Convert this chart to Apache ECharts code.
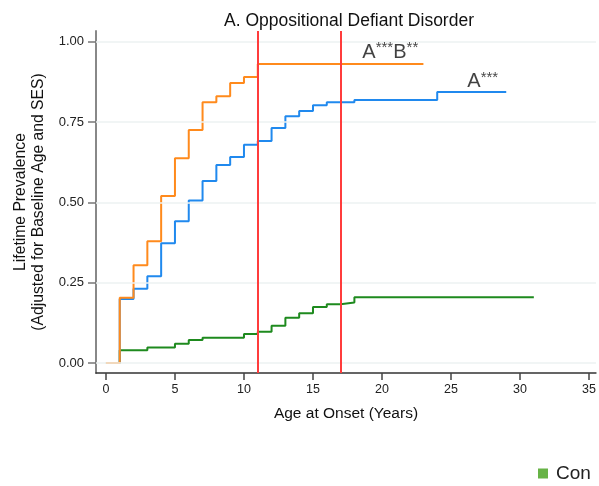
<!DOCTYPE html>
<html>
<head>
<meta charset="utf-8">
<script src="https://cdn.jsdelivr.net/npm/echarts@6/dist/echarts.min.js"></script>
<style>html,body{margin:0;padding:0;background:#fff}#c{width:599px;height:486px}</style>
</head>
<body>
<div id="c"></div>
<script>
// Values by integer age (age = index), held until the next age
const oddGroupA = [0, 0.203, 0.304, 0.379, 0.520, 0.637, 0.725, 0.811, 0.830, 0.871, 0.890,
  0.930, 0.930, 0.930, 0.930, 0.930, 0.930, 0.930, 0.930, 0.930, 0.930, 0.930, 0.930, 0.930];
const oddGroupB = [0, 0.199, 0.231, 0.270, 0.373, 0.441, 0.506, 0.566, 0.616, 0.641, 0.679,
  0.691, 0.731, 0.768, 0.784, 0.802, 0.811, 0.811, 0.818, 0.818, 0.818, 0.818, 0.818, 0.818,
  0.843, 0.843, 0.843, 0.843, 0.843, 0.843];
const controlVals = [0, 0.040, 0.040, 0.048, 0.048, 0.060, 0.072, 0.079, 0.079, 0.079, 0.090,
  0.097, 0.116, 0.141, 0.155, 0.174, 0.183, 0.188, 0.205, 0.205, 0.205, 0.205, 0.205, 0.205,
  0.205, 0.205, 0.205, 0.205, 0.205, 0.205, 0.205, 0.205];
const cutoffAges = [11, 17];
const xTicks = [0, 5, 10, 15, 20, 25, 30, 35];
const yTicks = [0, 0.25, 0.5, 0.75, 1];
const annotations = [
  {age: 20.6, value: 0.967, main1: 'A', sup1: '***', main2: 'B', sup2: '**'},
  {age: 27.3, value: 0.875, main1: 'A', sup1: '***', main2: '', sup2: ''}
];

const toPairs = arr => arr.map((v, i) => [i, v]);
const FONT = '"Liberation Sans", Arial, Helvetica, sans-serif';

const chart = echarts.init(document.getElementById('c'), null, {renderer: 'canvas'});
chart.setOption({
  animation: false,
  textStyle: {fontFamily: FONT},
  title: {
    text: 'A. Oppositional Defiant Disorder',
    left: 344, top: 7, textAlign: 'center',
    textStyle: {fontFamily: FONT, fontSize: 17.5, fontWeight: 'normal', color: '#111'}
  },
  legend: {
    left: 533, top: 459,
    itemWidth: 10, itemHeight: 10,
    textStyle: {fontFamily: FONT, fontSize: 19, color: '#222', width: 40, overflow: 'truncate', ellipsis: '', padding: [0, 0, 0, 3]},
    data: [{name: 'Control', icon: 'rect', itemStyle: {color: '#67b346'}}]
  },
  grid: {left: 96, right: 0, top: 31, bottom: 113, containLabel: false},
  xAxis: {
    type: 'value', min: -0.72, max: 35.5,
    name: 'Age at Onset (Years)', nameLocation: 'middle', nameGap: 33,
    nameTextStyle: {fontFamily: FONT, fontSize: 15.5, color: '#111'},
    axisLine: {onZero: false, lineStyle: {color: '#333', width: 1.5}},
    axisTick: {show: true, customValues: xTicks, length: 7, lineStyle: {color: '#444', width: 1.5}},
    axisLabel: {customValues: xTicks, margin: 10, fontSize: 12.5, color: '#222', fontFamily: FONT},
    splitLine: {show: false}
  },
  yAxis: {
    type: 'value', min: -0.031, max: 1.033,
    name: 'Lifetime Prevalence\n(Adjusted for Baseline Age and SES)',
    nameLocation: 'middle', nameGap: 48, nameRotate: 90,
    nameTextStyle: {fontFamily: FONT, fontSize: 15.7, color: '#111', lineHeight: 18},
    axisLine: {show: true, onZero: false, lineStyle: {color: '#888', width: 2}},
    axisTick: {show: true, customValues: yTicks, length: 8, lineStyle: {color: '#777', width: 1.5}},
    axisLabel: {customValues: yTicks, margin: 12, fontSize: 13, color: '#222', fontFamily: FONT,
      formatter: v => v.toFixed(2)},
    splitLine: {show: false}
  },
  series: [
    {
      type: 'line', name: 'grid', silent: true, data: [], z: 1,
      markLine: {
        silent: true, symbol: ['none', 'none'], label: {show: false},
        lineStyle: {color: '#edf2f2', width: 1.5, type: 'solid'},
        data: yTicks.map(v => ({yAxis: v}))
      }
    },
    {
      type: 'line', name: 'Control', step: 'end', showSymbol: false, z: 3,
      data: toPairs(controlVals),
      lineStyle: {color: '#1e8a1e', width: 2}, itemStyle: {color: '#1e8a1e'}
    },
    {
      type: 'line', name: 'Group B', step: 'end', showSymbol: false, z: 3,
      data: toPairs(oddGroupB),
      lineStyle: {color: '#2089ee', width: 2}, itemStyle: {color: '#2089ee'}
    },
    {
      type: 'line', name: 'Group A', step: 'end', showSymbol: false, z: 3,
      data: toPairs(oddGroupA),
      lineStyle: {color: '#ff8a1c', width: 2}, itemStyle: {color: '#ff8a1c'}
    },
    {
      type: 'line', name: 'cutoffs', data: [], z: 5,
      markLine: {
        silent: true, symbol: ['none', 'none'], label: {show: false},
        lineStyle: {color: '#ff3c3c', width: 2, type: 'solid'},
        data: cutoffAges.map(a => ({xAxis: a}))
      }
    },
    {
      type: 'scatter', name: 'notes', symbolSize: 0, z: 6, silent: true,
      data: annotations.map(a => ({
        value: [a.age, a.value],
        label: {
          show: true, position: 'inside',
          formatter: '{m|' + a.main1 + '}{s|' + a.sup1 + '}' + (a.main2 ? '{m|' + a.main2 + '}{s|' + a.sup2 + '}' : ''),
          rich: {
            m: {fontFamily: FONT, fontSize: 20, color: '#111'},
            s: {fontFamily: FONT, fontSize: 15, color: '#111', verticalAlign: 'top', padding: [0, 0, 8, 0]}
          }
        }
      }))
    }
  ]
});
</script>
</body>
</html>
